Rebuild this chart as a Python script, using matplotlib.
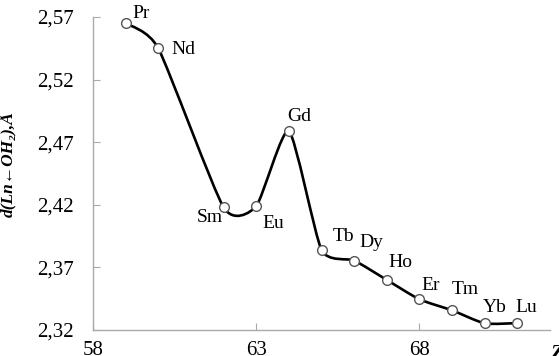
import numpy as np
import matplotlib.pyplot as plt
from matplotlib.path import Path
from matplotlib.patches import PathPatch

plt.rcParams['font.family'] = ['Liberation Serif', 'DejaVu Serif']

# Ln-OH2 distance across the lanthanide series
elements = ["Pr", "Nd", "Sm", "Eu", "Gd", "Tb", "Dy", "Ho", "Er", "Tm", "Yb", "Lu"]
z_values = [59, 60, 62, 63, 64, 65, 66, 67, 68, 69, 70, 71]
distances = [2.565, 2.545, 2.418, 2.419, 2.479, 2.384, 2.3755, 2.360, 2.3445, 2.3357, 2.3253, 2.3255]

y_ticks = [2.32, 2.37, 2.42, 2.47, 2.52, 2.57]
y_ticklabels = ["2,32", "2,37", "2,42", "2,47", "2,52", "2,57"]
x_ticks = [58, 63, 68]

# label offsets in pixels from each marker (dx, dy, horizontal alignment)
label_offsets = {
    "Pr": (7, 10, "left"), "Nd": (13, -1, "left"), "Sm": (-1, -10, "right"),
    "Eu": (6, -17, "left"), "Gd": (-2, 14, "left"), "Tb": (11, 13, "left"),
    "Dy": (5, 18, "left"), "Ho": (2, 17, "left"), "Er": (2, 14, "left"),
    "Tm": (0, 21, "left"), "Yb": (-2, 16, "left"), "Lu": (-2, 16, "left"),
}


def smooth_path(xs, ys, k=0.1):
    # cubic Bezier segments through the points (spreadsheet-style smoothed line)
    pts = np.column_stack([xs, ys])
    n = len(pts)
    verts = [pts[0]]
    codes = [Path.MOVETO]
    for i in range(n - 1):
        p0 = pts[max(i - 1, 0)]
        p1 = pts[i]
        p2 = pts[i + 1]
        p3 = pts[min(i + 2, n - 1)]
        c1 = p1 + (p2 - p0) * k
        c2 = p2 - (p3 - p1) * k
        verts += [c1, c2, p2]
        codes += [Path.CURVE4] * 3
    return Path(verts, codes)


fig = plt.figure(figsize=(5.59, 3.56), dpi=100)
ax = fig.add_axes([93 / 559, 26 / 356, 457 / 559, 313 / 356])

ax.add_patch(PathPatch(smooth_path(z_values, distances), facecolor='none',
                       edgecolor='black', lw=1.9, zorder=2))
ax.plot(z_values, distances, linestyle='none', marker='o', markersize=7,
        markerfacecolor='white', markeredgecolor='#555555', markeredgewidth=1.0, zorder=3)

for name, z, d in zip(elements, z_values, distances):
    dx, dy, ha = label_offsets[name]
    ax.annotate(name, (z, d), xytext=(dx, dy), textcoords='offset pixels',
                ha=ha, va='center', fontsize=14)

ax.set_xlim(58, 72)
ax.set_ylim(2.32, 2.57)
ax.set_yticks(y_ticks)
ax.set_yticklabels(y_ticklabels)
ax.set_xticks(x_ticks)

for side in ['top', 'right']:
    ax.spines[side].set_visible(False)
for side in ['left', 'bottom']:
    ax.spines[side].set_color('#aaaaaa')
    ax.spines[side].set_linewidth(1.0)
ax.tick_params(direction='in', length=5, color='#aaaaaa', labelsize=15)
ax.tick_params(axis='y', pad=14)
ax.tick_params(axis='x', pad=8)

ax.set_ylabel("d(Ln\u2190OH\u2082),Å", fontsize=12.5,
              fontweight='bold', fontstyle='italic')
ax.yaxis.set_label_coords(-0.165, 0.53)
ax.text(1.0, -0.045, "Z", transform=ax.transAxes, fontsize=15,
        fontweight='bold', fontstyle='italic', ha='left', va='top')

fig.savefig("out.png", dpi=100)
